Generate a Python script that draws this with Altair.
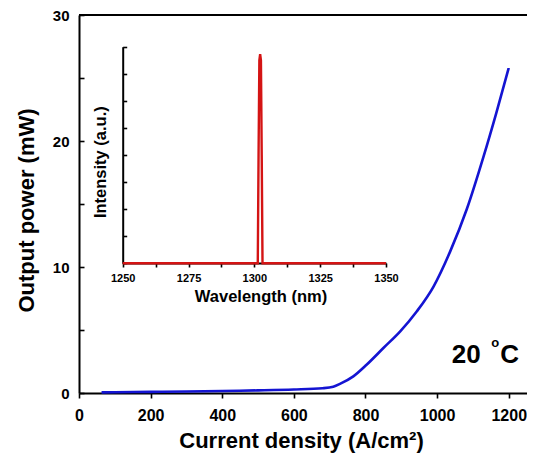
import altair as alt
import pandas as pd

FONT = "Liberation Sans"

# Main L-I curve
current_density = [63, 100, 200, 300, 400, 500, 600, 680, 710, 730, 766, 803,
                   850, 897, 943, 990, 1036, 1083, 1130, 1165, 1200]
output_power = [0.05, 0.06, 0.09, 0.12, 0.16, 0.21, 0.28, 0.38, 0.5, 0.74, 1.32, 2.24,
                3.57, 4.89, 6.47, 8.45, 11.2, 14.6, 18.8, 22.2, 25.8]

# Inset spectrum
wavelength = [1250, 1301.3, 1301.6, 1301.9, 1302.2, 1302.5, 1302.8, 1303.1, 1350]
intensity = [0, 0, 4.0, 7.5, 7.72, 7.5, 4.0, 0, 0]

# Tick values
main_x_ticks = [0, 100, 200, 300, 400, 500, 600, 700, 800, 900, 1000, 1100, 1200]
main_y_ticks = [0, 5, 10, 15, 20, 25, 30]
inset_x_ticks = [1250, 1262.5, 1275, 1287.5, 1300, 1312.5, 1325, 1337.5, 1350]
inset_y_ticks = [0, 1, 2, 3, 4, 5, 6, 7, 8]

W, H = 448, 378

main_df = pd.DataFrame({"J": current_density, "P": output_power})
inset_df = pd.DataFrame({"wl": wavelength, "I": intensity})

xs = alt.Scale(domain=[0, 1251], nice=False, zero=False)
ys = alt.Scale(domain=[0, 30], nice=False)

curve = alt.Chart(main_df).mark_line(
    color="#1414d2", strokeWidth=2.6, interpolate="monotone"
).encode(
    x=alt.X("J:Q", scale=xs, axis=alt.Axis(
        orient="bottom", values=main_x_ticks, format="d",
        labelExpr="datum.value % 200 == 0 ? datum.label : ''",
        labelFlush=False, labelOverlap=False, labelFontSize=16,
        tickSize=5, labelPadding=9, grid=False,
        title="Current density (A/cm²)", titleFontSize=22,
        titleX=222, titleY=54, titleAlign="center", titleBaseline="alphabetic")),
    y=alt.Y("P:Q", scale=ys, axis=alt.Axis(
        orient="right", offset=-W, values=main_y_ticks, format="d",
        labelExpr="datum.value % 10 == 0 ? datum.label : ''",
        labelAlign="right", labelPadding=-15, labelFontSize=15,
        labelOverlap=False, tickSize=5, grid=False,
        title="Output power (mW)", titleFontSize=22, titleAngle=270,
        titleX=-46, titleY=195, titleAlign="center", titleBaseline="alphabetic")),
)

one = alt.Data(values=[{}])
top_rule = alt.Chart(one).mark_rule(color="black", strokeWidth=2).encode(
    y=alt.datum(30)
)

t20 = alt.Chart(one).mark_text(
    text="20", font=FONT, fontWeight="bold", fontSize=26, align="left",
    baseline="alphabetic", color="black"
).encode(x=alt.datum(1041), y=alt.datum(2.38))
tdeg = alt.Chart(one).mark_text(
    text="o", font=FONT, fontWeight="bold", fontSize=13, align="left",
    baseline="alphabetic", color="black"
).encode(x=alt.datum(1151), y=alt.datum(3.63))
tC = alt.Chart(one).mark_text(
    text="C", font=FONT, fontWeight="bold", fontSize=26, align="left",
    baseline="alphabetic", color="black"
).encode(x=alt.datum(1176), y=alt.datum(2.38))

main = alt.layer(curve, top_rule, t20, tdeg, tC)

ix = alt.Scale(domain=[1250, 1350], range=[43.7, 307], nice=False, zero=False)
iy = alt.Scale(domain=[0, 8], range=[248.3, 31.7], nice=False)

spectrum = alt.Chart(inset_df).mark_line(color="#d41414", strokeWidth=2.4).encode(
    x=alt.X("wl:Q", scale=ix, axis=alt.Axis(
        orient="bottom", offset=-130, values=inset_x_ticks, format="d",
        labelExpr="datum.value % 25 == 0 ? datum.label : ''",
        labelFlush=False, labelOverlap=False, labelFontSize=11,
        tickSize=4, labelPadding=5, grid=False,
        title="Wavelength (nm)", titleFontSize=16.5,
        titleX=181.5, titleY=38, titleAlign="center", titleBaseline="alphabetic")),
    y=alt.Y("I:Q", scale=iy, axis=alt.Axis(
        orient="right", offset=43.7 - W, values=inset_y_ticks, labels=False,
        tickSize=4, grid=False,
        title="Intensity (a.u.)", titleFontSize=16.5, titleAngle=270,
        titleX=-17.7, titleY=146.7, titleAlign="center", titleBaseline="alphabetic")),
)

chart = alt.layer(main, spectrum).resolve_scale(
    x="independent", y="independent"
).properties(
    width=W, height=H,
    autosize=alt.AutoSizeParams(type="none"),
    padding={"left": 71, "top": 7, "right": 0, "bottom": 60},
).configure_view(stroke=None).configure_axis(
    domainColor="black", domainWidth=2, tickColor="black", tickWidth=1.6,
    labelColor="black", titleColor="black", labelFont=FONT, titleFont=FONT,
    labelFontWeight="bold", titleFontWeight="bold",
)

chart.save("out.html", embed_options={"renderer": "svg", "actions": False})
